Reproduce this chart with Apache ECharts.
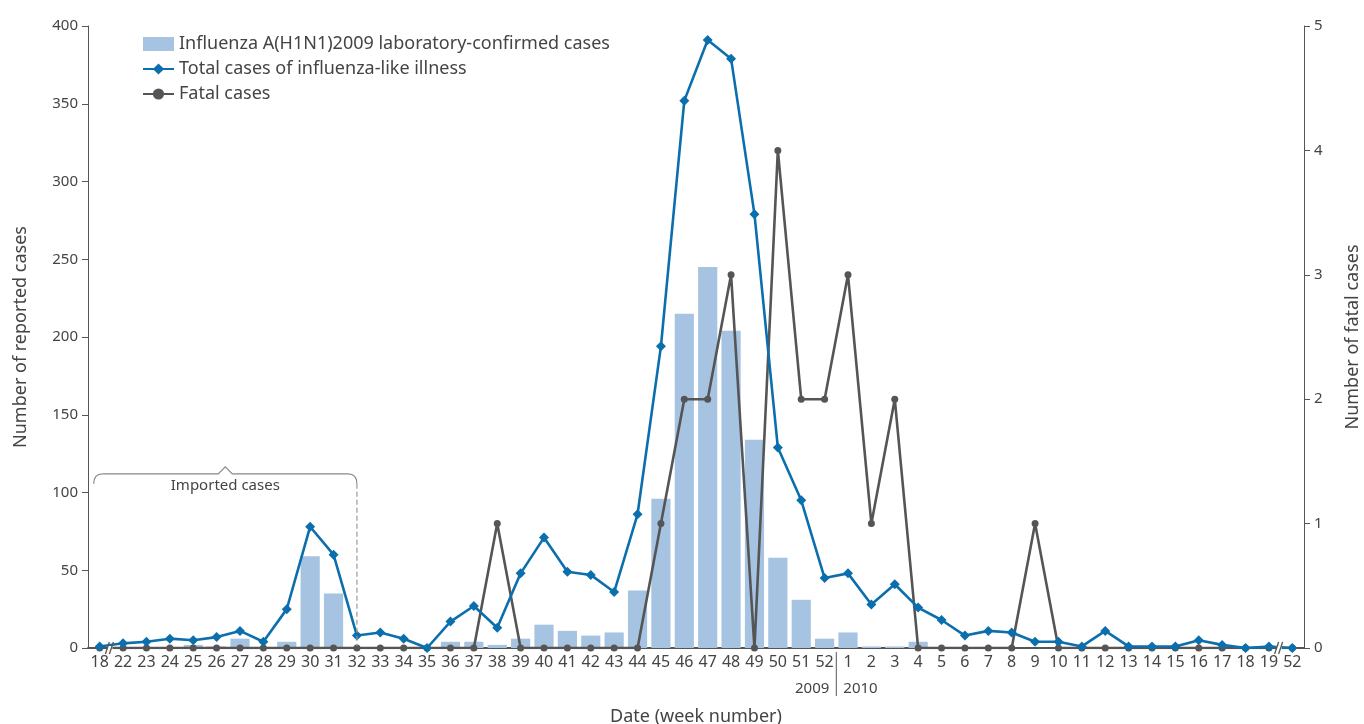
<!DOCTYPE html>
<html>
<head>
<meta charset="utf-8">
<title>Influenza A(H1N1)2009</title>
<script src="https://cdn.jsdelivr.net/npm/echarts@6/dist/echarts.min.js"></script>
<style>
    html, body { margin: 0; padding: 0; background: #fff; }
    #chart { width: 1364px; height: 724px; }
</style>
</head>
<body>
<div id="chart"></div>
<script>
// week keys (year-week) and what is printed under each tick
var weeks = ['2009-18', '2009-22', '2009-23', '2009-24', '2009-25', '2009-26', '2009-27', '2009-28', '2009-29', '2009-30',
    '2009-31', '2009-32', '2009-33', '2009-34', '2009-35', '2009-36', '2009-37', '2009-38', '2009-39', '2009-40',
    '2009-41', '2009-42', '2009-43', '2009-44', '2009-45', '2009-46', '2009-47', '2009-48', '2009-49', '2009-50',
    '2009-51', '2009-52', '2010-1', '2010-2', '2010-3', '2010-4', '2010-5', '2010-6', '2010-7', '2010-8',
    '2010-9', '2010-10', '2010-11', '2010-12', '2010-13', '2010-14', '2010-15', '2010-16', '2010-17', '2010-18',
    '2010-19', '2010-52'];
var weekLabels = ['18', '22', '23', '24', '25', '26', '27', '28', '29', '30',
    '31', '32', '33', '34', '35', '36', '37', '38', '39', '40',
    '41', '42', '43', '44', '45', '46', '47', '48', '49', '50',
    '51', '52', '1', '2', '3', '4', '5', '6', '7', '8',
    '9', '10', '11', '12', '13', '14', '15', '16', '17', '18',
    '19', '52'];

var labConfirmed = [0, 0, 0, 0, 2, 1, 6, 0, 4, 59,
    35, 0, 0, 0, 0, 4, 4, 2, 6, 15,
    11, 8, 10, 37, 96, 215, 245, 204, 134, 58,
    31, 6, 10, 1, 1, 4, 0, 0, 0, 0,
    0, 0, 0, 0, 0, 0, 0, 0, 0, 0,
    0, 0];
var iliCases = [1, 3, 4, 6, 5, 7, 11, 4, 25, 78,
    60, 8, 10, 6, 0, 17, 27, 13, 48, 71,
    49, 47, 36, 86, 194, 352, 391, 379, 279, 129,
    95, 45, 48, 28, 41, 26, 18, 8, 11, 10,
    4, 4, 1, 11, 1, 1, 1, 5, 2, 0,
    1, 0];
var fatalCases = [0, 0, 0, 0, 0, 0, 0, 0, 0, 0,
    0, 0, 0, 0, 0, 0, 0, 1, 0, 0,
    0, 0, 0, 0, 1, 2, 2, 3, 0, 4,
    2, 2, 3, 1, 2, 0, 0, 0, 0, 0,
    1, 0, 0, 0, 0, 0, 0, 0, 0, 0,
    0, 0];

var textColor = '#444';
var axisColor = '#555';
var font = 'Noto Sans';

var chart = echarts.init(document.getElementById('chart'));
var option = {
    animation: false,
    textStyle: { fontFamily: font },
    grid: { left: 88, right: 60, top: 26, bottom: 76, outerBoundsMode: 'none' },
    legend: {
        orient: 'vertical',
        left: 137,
        top: 30,
        itemGap: 7,
        itemWidth: 31,
        itemHeight: 14,
        textStyle: { color: textColor, fontSize: 18, fontFamily: font },
        data: [
            { name: 'Influenza A(H1N1)2009 laboratory-confirmed cases', icon: 'rect' },
            'Total cases of influenza-like illness',
            'Fatal cases'
        ]
    },
    xAxis: {
        type: 'category',
        data: weeks,
        name: 'Date (week number)',
        nameLocation: 'middle',
        nameGap: 60,
        nameTextStyle: { color: textColor, fontSize: 18 },
        axisLine: { lineStyle: { color: axisColor, width: 2 } },
        axisTick: { length: 6, lineStyle: { color: axisColor } },
        axisLabel: {
            interval: 0,
            color: textColor,
            fontSize: 16,
            margin: 6,
            formatter: function (v, i) { return weekLabels[i]; }
        }
    },
    yAxis: [
        {
            type: 'value',
            min: 0,
            max: 400,
            interval: 50,
            name: 'Number of reported cases',
            nameLocation: 'middle',
            nameGap: 58,
            nameTextStyle: { color: textColor, fontSize: 18 },
            axisLine: { show: true, lineStyle: { color: axisColor } },
            axisTick: { show: true, length: 6, lineStyle: { color: axisColor } },
            axisLabel: { color: textColor, fontSize: 15, margin: 10 },
            splitLine: { show: false }
        },
        {
            type: 'value',
            min: 0,
            max: 5,
            interval: 1,
            name: 'Number of fatal cases',
            nameLocation: 'middle',
            nameGap: 40,
            nameRotate: 90,
            nameTextStyle: { color: textColor, fontSize: 18 },
            axisLine: { show: true, lineStyle: { color: axisColor } },
            axisTick: { show: true, length: 6, lineStyle: { color: axisColor } },
            axisLabel: { color: textColor, fontSize: 15, margin: 10 },
            splitLine: { show: false }
        }
    ],
    series: [
        {
            name: 'Influenza A(H1N1)2009 laboratory-confirmed cases',
            type: 'bar',
            data: labConfirmed,
            barCategoryGap: '18%',
            itemStyle: { color: '#a6c3e2' }
        },
        {
            name: 'Total cases of influenza-like illness',
            type: 'line',
            data: iliCases,
            symbol: 'diamond',
            symbolSize: 10,
            z: 4,
            lineStyle: { color: '#0b6fae', width: 2.6 },
            itemStyle: { color: '#0b6fae' }
        },
        {
            name: 'Fatal cases',
            type: 'line',
            yAxisIndex: 1,
            data: fatalCases,
            symbol: 'circle',
            symbolSize: 7,
            z: 3,
            lineStyle: { color: '#555555', width: 2.6 },
            itemStyle: { color: '#555555' }
        }
    ]
};
chart.setOption(option);

// annotations placed from the axes
var px = function (i, v) { return chart.convertToPixel({ xAxisIndex: 0, yAxisIndex: 0 }, [i, v]); };
var band = px(1, 0)[0] - px(0, 0)[0];
var y0 = px(0, 0)[1];
var els = [];

// axis breaks
[1, 51].forEach(function (i) {
    var bx = px(i, 0)[0] - band / 2;
    els.push({ type: 'rect', shape: { x: bx - 4, y: y0 - 2, width: 5, height: 4 }, style: { fill: '#fff' }, z: 100 });
    els.push({ type: 'line', shape: { x1: bx - 6, y1: y0 + 6, x2: bx - 2, y2: y0 - 6 }, style: { stroke: axisColor, lineWidth: 1.3 }, z: 101 });
    els.push({ type: 'line', shape: { x1: bx - 2, y1: y0 + 6, x2: bx + 2, y2: y0 - 6 }, style: { stroke: axisColor, lineWidth: 1.3 }, z: 101 });
});

// imported cases bracket
var yb = px(0, 112)[1];
var xl = px(0, 0)[0] - 6;
var xr = px(11, 0)[0];
var xm = (xl + xr) / 2;
var bracketStyle = { fill: null, stroke: '#888', lineWidth: 1.2 };
els.push({
    type: 'bezierCurve',
    shape: { x1: xl, y1: yb + 10, x2: xl + 9, y2: yb, cpx1: xl, cpy1: yb },
    style: bracketStyle, z: 50
});
els.push({
    type: 'polyline',
    shape: { points: [[xl + 9, yb], [xm - 7, yb], [xm, yb - 7], [xm + 7, yb], [xr - 9, yb]] },
    style: bracketStyle, z: 50
});
els.push({
    type: 'bezierCurve',
    shape: { x1: xr - 9, y1: yb, x2: xr, y2: yb + 10, cpx1: xr, cpy1: yb },
    style: bracketStyle, z: 50
});
els.push({
    type: 'line',
    shape: { x1: xr, y1: yb + 10, x2: xr, y2: y0 - 2 },
    style: { stroke: '#999', lineWidth: 1.2, lineDash: [5, 3] },
    z: 50
});
els.push({
    type: 'text',
    x: xm, y: yb + 12,
    style: { text: 'Imported cases', fill: textColor, font: '15px "Noto Sans"', align: 'center', verticalAlign: 'middle' },
    z: 50
});

// year separator
var xs = px(32, 0)[0] - band / 2;
els.push({ type: 'line', shape: { x1: xs, y1: y0 + 4, x2: xs, y2: y0 + 48 }, style: { stroke: axisColor, lineWidth: 1 }, z: 50 });
els.push({ type: 'text', x: xs - 7, y: y0 + 41, style: { text: '2009', fill: textColor, font: '15px "Noto Sans"', align: 'right', verticalAlign: 'middle' }, z: 50 });
els.push({ type: 'text', x: xs + 7, y: y0 + 41, style: { text: '2010', fill: textColor, font: '15px "Noto Sans"', align: 'left', verticalAlign: 'middle' }, z: 50 });

chart.setOption({ graphic: { elements: els } });
</script>
</body>
</html>
